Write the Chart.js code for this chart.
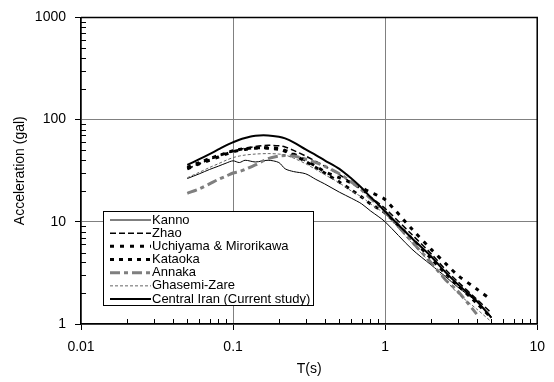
<!DOCTYPE html>
<html>
<head>
<meta charset="utf-8">
<script src="https://cdn.jsdelivr.net/npm/chart.js@4"></script>
<style>
html, body { margin: 0; padding: 0; background: #fff; }
#wrap { width: 554px; height: 382px; }
</style>
</head>
<body>
<div id="wrap"><canvas id="chart"></canvas></div>
<script>
// periods T (s) and spectral acceleration (gal)
const periods = [0.05, 0.06, 0.07, 0.08, 0.09, 0.1, 0.11, 0.12, 0.14, 0.17, 0.2, 0.22, 0.25, 0.3, 0.35, 0.4, 0.5, 0.6, 0.7, 0.8, 0.9, 1, 1.5, 2, 2.5, 3, 4, 5];
const kanno     = [26.5, 29.5, 32.5, 35, 37.5, 39.5, 38, 40, 38.5, 40, 38, 33, 31, 29.5, 26, 23.5, 19.5, 17, 15, 12.8, 11.3, 10, 5.4, 3.8, 2.9, 2.3, 1.65, 1.18];
const zhao      = [33, 37, 40.5, 44, 47, 49, 51, 52.5, 54.5, 56, 55.5, 54, 50, 44, 39, 35, 29, 24, 20.5, 17.5, 15.3, 13.5, 7.5, 4.9, 3.4, 2.6, 1.75, 1.28];
const uchiyama  = [33, 37, 40, 43, 46, 48.5, 50, 51, 52.5, 53, 52, 50, 46, 40, 35, 31, 27, 24, 21.5, 19.5, 18, 16.5, 8.5, 5.4, 3.9, 3.0, 2.2, 1.72];
const kataoka   = [34, 38, 41.5, 44.5, 47, 49.5, 51, 52, 53, 52.5, 51, 49, 45, 39, 34, 30, 24.5, 20.5, 17.5, 15, 13.5, 12.2, 6.8, 4.4, 3.1, 2.4, 1.6, 1.15];
const annaka    = [19, 21, 23.5, 26, 28, 30, 31, 32.5, 36, 41.5, 44, 44.5, 44, 41, 38, 35, 29.5, 24.5, 20.5, 17, 14.5, 12.5, 6.4, 4.0, 2.7, 2.1, 1.25, null];
const ghasemi   = [27, 30.5, 34, 37, 40, 42.5, 44, 45, 46, 46.5, 46, 45, 42, 37, 32.5, 29, 24, 20, 17.5, 15, 13.3, 12, 6.2, 3.9, 2.7, 2.0, 1.4, 1.05];
const central   = [36, 41, 46, 51, 56, 60, 63.5, 66, 69.5, 70, 68, 65.5, 60, 51, 45, 40, 33, 26.5, 21.5, 17.5, 14.8, 12.6, 6.9, 4.6, 3.2, 2.45, 1.68, 1.15];

const seriesNames = ['Kanno', 'Zhao', 'Uchiyama & Mirorikawa', 'Kataoka', 'Annaka', 'Ghasemi-Zare', 'Central Iran (Current study)'];
const xTicks = [0.01, 0.1, 1, 10];
const yTicks = [1, 10, 100, 1000];

const series = [kanno, zhao, uchiyama, kataoka, annaka, ghasemi, central];
const styles = [
  { color: '#000', width: 1, dash: [] },
  { color: '#000', width: 1.5, dash: [6, 3] },
  { color: '#000', width: 3, dash: [4, 6] },
  { color: '#000', width: 3, dash: [4, 5] },
  { color: '#7f7f7f', width: 3, dash: [10, 4, 4, 4] },
  { color: '#666', width: 1, dash: [3, 2] },
  { color: '#000', width: 2, dash: [] }
];

const FONT = 'Liberation Sans, Arial, sans-serif';

const datasets = series.map((vals, i) => ({
  label: seriesNames[i],
  data: periods.map((t, j) => ({ x: t, y: vals[j] })).filter(p => p.y !== null),
  borderColor: styles[i].color,
  borderWidth: styles[i].width,
  borderDash: styles[i].dash,
  borderCapStyle: 'butt',
  pointRadius: 0,
  tension: 0.3,
  fill: false,
  order: 7 - i
}));

// minor ticks inside the plot plus top/right frame
const frame = {
  id: 'frame',
  afterDraw(chart) {
    const { ctx, chartArea: a, scales: { x, y } } = chart;
    ctx.save();
    ctx.strokeStyle = '#000';
    ctx.lineWidth = 1;
    ctx.beginPath();
    for (let d = 0.01; d < 10; d *= 10) {
      for (let k = 2; k <= 9; k++) {
        const px = Math.round(x.getPixelForValue(d * k)) + 0.5;
        ctx.moveTo(px, a.bottom);
        ctx.lineTo(px, a.bottom - 5);
      }
    }
    for (let d = 1; d < 1000; d *= 10) {
      for (let k = 2; k <= 9; k++) {
        const py = Math.round(y.getPixelForValue(d * k)) + 0.5;
        ctx.moveTo(a.left, py);
        ctx.lineTo(a.left + 5, py);
      }
    }
    ctx.stroke();
    ctx.lineWidth = 1.5;
    ctx.beginPath();
    ctx.moveTo(a.left, a.top);
    ctx.lineTo(a.right, a.top);
    ctx.lineTo(a.right, a.bottom);
    ctx.stroke();
    ctx.restore();
  }
};

// legend box drawn inside the plot area
const boxLegend = {
  id: 'boxLegend',
  afterDraw(chart) {
    const ctx = chart.ctx;
    const bx = 103.5, by = 211.5, bw = 210, bh = 94;
    ctx.save();
    ctx.fillStyle = '#fff';
    ctx.fillRect(bx, by, bw, bh);
    ctx.strokeStyle = '#000';
    ctx.lineWidth = 1;
    ctx.strokeRect(bx, by, bw, bh);
    ctx.font = '13px ' + FONT;
    ctx.textBaseline = 'middle';
    ctx.fillStyle = '#000';
    seriesNames.forEach((name, i) => {
      const cy = 220 + i * 13.17;
      const s = styles[i];
      ctx.strokeStyle = s.color;
      ctx.lineWidth = s.width;
      ctx.setLineDash(s.dash);
      ctx.lineCap = 'butt';
      ctx.beginPath();
      ctx.moveTo(110, cy);
      ctx.lineTo(151, cy);
      ctx.stroke();
      ctx.setLineDash([]);
      ctx.fillText(name, 152, cy);
    });
    ctx.restore();
  }
};

new Chart(document.getElementById('chart'), {
  type: 'line',
  data: { datasets: datasets },
  options: {
    responsive: true,
    maintainAspectRatio: false,
    animation: false,
    layout: { padding: { left: 0, top: 13, right: 9, bottom: 0 } },
    plugins: { legend: { display: false }, tooltip: { enabled: false } },
    scales: {
      x: {
        type: 'logarithmic',
        min: 0.01,
        max: 10,
        afterBuildTicks: s => { s.ticks = xTicks.map(v => ({ value: v })); },
        afterFit: s => { s.height = 58; },
        ticks: {
          autoSkip: false, maxRotation: 0, padding: 9,
          color: '#000', font: { family: FONT, size: 14 },
          callback: v => String(v)
        },
        grid: { color: '#808080', lineWidth: 1, tickColor: '#000', tickLength: 6 },
        border: { color: '#000', width: 1.5 },
        title: { display: true, text: 'T(s)', color: '#000', font: { family: FONT, size: 14 }, padding: { top: 0, bottom: 4 } }
      },
      y: {
        type: 'logarithmic',
        min: 1,
        max: 1000,
        afterBuildTicks: s => { s.ticks = yTicks.map(v => ({ value: v })); },
        afterFit: s => { s.width = 81; },
        ticks: {
          autoSkip: false, padding: 9,
          color: '#000', font: { family: FONT, size: 14 },
          callback: v => String(v)
        },
        grid: { color: '#808080', lineWidth: 1, tickColor: '#000', tickLength: 6 },
        border: { color: '#000', width: 1.5 },
        title: { display: true, text: 'Acceleration (gal)', color: '#000', font: { family: FONT, size: 14 }, padding: { top: 12, bottom: 0 } }
      }
    }
  },
  plugins: [frame, boxLegend]
});
</script>
</body>
</html>
